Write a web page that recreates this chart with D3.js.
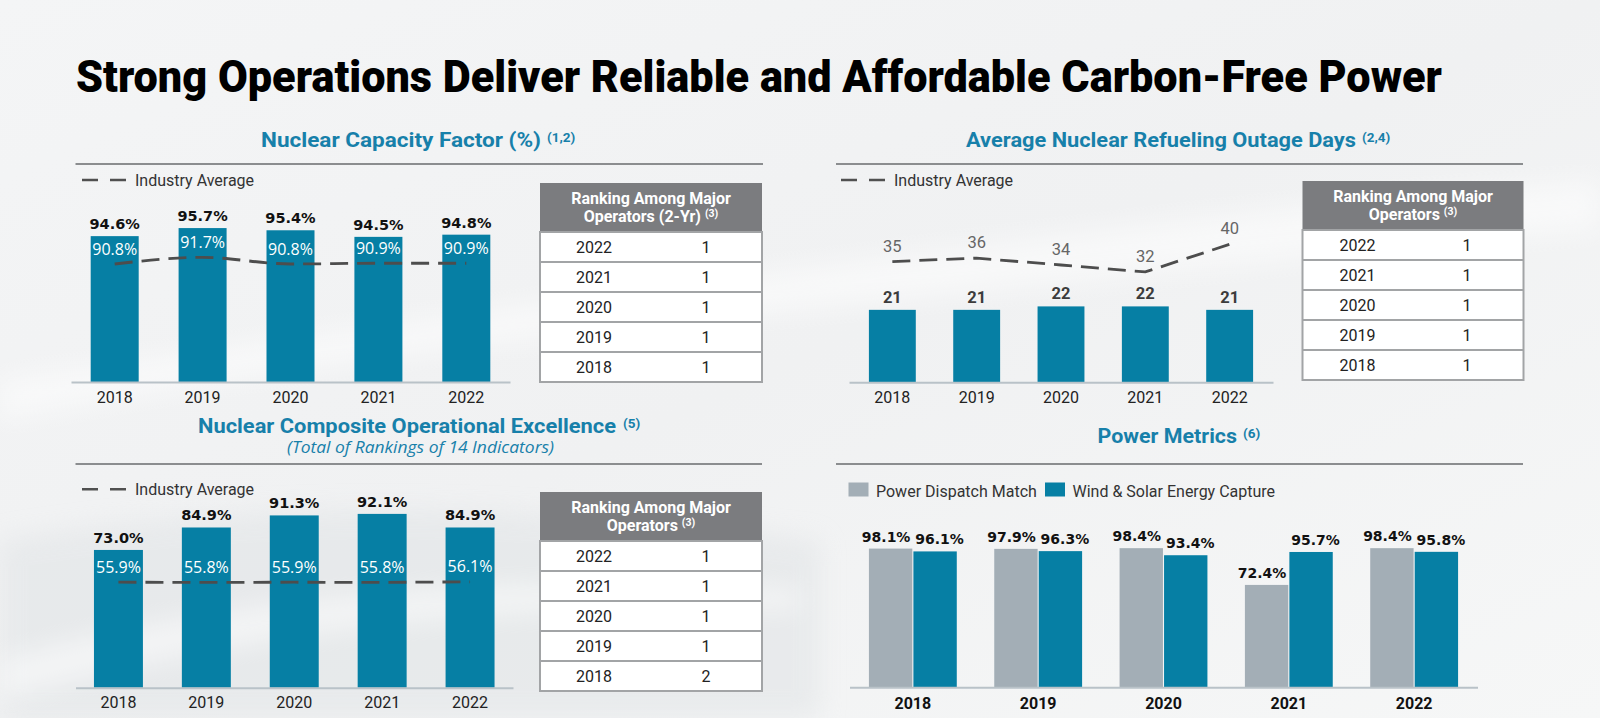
<!DOCTYPE html>
<html><head><meta charset="utf-8">
<script src="https://cdn.jsdelivr.net/npm/d3@7"></script>
<style>html,body{margin:0;padding:0;overflow:hidden;background:#f3f4f5}</style>
</head><body><svg id="c" width="1600" height="718"></svg>
<script>
// ---------- DATA ----------
const mainTitle = "Strong Operations Deliver Reliable and Affordable Carbon-Free Power";
const years = ["2018", "2019", "2020", "2021", "2022"];
const capacityFactor = [94.6, 95.7, 95.4, 94.5, 94.8];
const capacityIndustry = [90.8, 91.7, 90.8, 90.9, 90.9];
const outageDays = [21, 21, 22, 22, 21];
const outageIndustry = [35, 36, 34, 32, 40];
const compositeExcellence = [73.0, 84.9, 91.3, 92.1, 84.9];
const compositeIndustry = [55.9, 55.8, 55.9, 55.8, 56.1];
const seriesNames = ["Power Dispatch Match", "Wind & Solar Energy Capture"];
const powerDispatch = [98.1, 97.9, 98.4, 72.4, 98.4];
const windSolarCapture = [96.1, 96.3, 93.4, 95.7, 95.8];
const rankYears = ["2022", "2021", "2020", "2019", "2018"];
const rankCapacity = [1, 1, 1, 1, 1];
const rankOutage = [1, 1, 1, 1, 1];
const rankComposite = [1, 1, 1, 1, 2];
const legendIndustry = "Industry Average";

// ---------- STYLE ----------
const TEAL = "#067fa4", GREYBAR = "#a3aeb6", TITLE = "#1780aa", HEAD = "#7b7c7f";
const SANS = "Roboto, 'Open Sans', sans-serif";
const WIDE = "'DejaVu Sans', Verdana, sans-serif";
const OPEN = "'Open Sans', Roboto, sans-serif";
const pct = v => d3.format(".1f")(v) + "%";

const svg = d3.select("#c");
const defs = svg.append("defs");
const bg = defs.append("linearGradient").attr("id", "bg").attr("x1", 0).attr("y1", 0).attr("x2", 1).attr("y2", 1);
bg.append("stop").attr("offset", 0).attr("stop-color", "#f4f5f6");
bg.append("stop").attr("offset", 0.5).attr("stop-color", "#f0f1f2");
bg.append("stop").attr("offset", 1).attr("stop-color", "#f6f7f7");
svg.append("rect").attr("width", 1600).attr("height", 718).attr("fill", "url(#bg)");
const blur = defs.append("filter").attr("id", "soft").attr("x", "-10%").attr("y", "-50%").attr("width", "120%").attr("height", "200%");
blur.append("feGaussianBlur").attr("stdDeviation", 12);
// soft swooshes in background
svg.append("path").attr("d", "M0,420 C300,360 600,330 900,300 C1200,270 1450,240 1600,230 L1600,180 C1300,200 900,250 0,380 Z")
  .attr("fill", "#ffffff").attr("opacity", 0.5).attr("filter", "url(#soft)");
svg.append("path").attr("d", "M0,540 C250,500 500,500 820,540 L820,718 L0,718 Z")
  .attr("fill", "#e2e5e7").attr("opacity", 0.6).attr("filter", "url(#soft)");
svg.append("path").attr("d", "M0,660 C200,600 500,570 800,590 L800,610 C500,600 250,630 0,700 Z")
  .attr("fill", "#ffffff").attr("opacity", 0.5).attr("filter", "url(#soft)");

// ---------- TITLE ----------
svg.append("text").attr("x", 76).attr("y", 92)
  .attr("font-family", SANS).attr("font-weight", 900).attr("font-size", 44)
  .attr("fill", "#000").attr("textLength", 1366).attr("lengthAdjust", "spacingAndGlyphs")
  .text(mainTitle);

function panelTitle(text, sup, x0, x1, supX, baseline) {
  svg.append("text").attr("x", x0).attr("y", baseline)
    .attr("font-family", SANS).attr("font-weight", 700).attr("font-size", 20.5)
    .attr("fill", TITLE).attr("textLength", x1 - x0).attr("lengthAdjust", "spacingAndGlyphs")
    .text(text);
  svg.append("text").attr("x", supX).attr("y", baseline - 5)
    .attr("font-family", SANS).attr("font-weight", 700).attr("font-size", 13.5)
    .attr("fill", TITLE).text(sup);
}
function rule(x0, x1, y) {
  svg.append("line").attr("x1", x0).attr("x2", x1).attr("y1", y).attr("y2", y)
    .attr("stroke", "#8b8d8f").attr("stroke-width", 2);
}
function industryLegend(x, y) {
  svg.append("line").attr("x1", x).attr("x2", x + 46).attr("y1", y).attr("y2", y)
    .attr("stroke", "#505050").attr("stroke-width", 2.6).attr("stroke-dasharray", "16 12");
  svg.append("text").attr("x", x + 53).attr("y", y + 6)
    .attr("font-family", SANS).attr("font-size", 16).attr("fill", "#333").text(legendIndustry);
}

function rankTable(x, top, w, line2, rows, vals, colA, colB) {
  const g = svg.append("g");
  const hh = 49, rh = 30;
  g.append("rect").attr("x", x).attr("y", top).attr("width", w).attr("height", hh).attr("fill", HEAD);
  g.append("rect").attr("x", x).attr("y", top + hh).attr("width", w).attr("height", rh * rows.length)
    .attr("fill", "#ffffff").attr("stroke", "#a2a4a6").attr("stroke-width", 2);
  g.append("text").attr("x", x + w / 2).attr("y", top + 21).attr("text-anchor", "middle")
    .attr("font-family", SANS).attr("font-weight", 700).attr("font-size", 16).attr("fill", "#fff")
    .text("Ranking Among Major");
  const t2 = g.append("text").attr("x", x + w / 2).attr("y", top + 39).attr("text-anchor", "middle")
    .attr("font-family", SANS).attr("font-weight", 700).attr("font-size", 16).attr("fill", "#fff");
  t2.append("tspan").text(line2 + " ");
  t2.append("tspan").attr("font-size", 10.5).attr("dy", -5).text("(3)");
  const r = g.selectAll("g.row").data(rows.map((d, i) => ({ year: d, v: vals[i], i }))).join("g")
    .attr("transform", d => `translate(0,${top + hh + d.i * rh})`);
  r.filter(d => d.i > 0).append("line").attr("x1", x).attr("x2", x + w).attr("y1", 0).attr("y2", 0)
    .attr("stroke", "#a2a4a6").attr("stroke-width", 2);
  r.append("text").attr("x", x + colA).attr("y", 20.5).attr("text-anchor", "middle")
    .attr("font-family", SANS).attr("font-size", 16).attr("fill", "#222").text(d => d.year);
  r.append("text").attr("x", x + colB).attr("y", 20.5).attr("text-anchor", "middle")
    .attr("font-family", SANS).attr("font-size", 16).attr("fill", "#222").text(d => d.v);
}

function singlePanel(cfg) {
  const g = svg.append("g");
  const x = d3.scaleBand().domain(years).range(cfg.xr).paddingInner(cfg.pi).paddingOuter(cfg.po);
  const y = d3.scaleLinear().domain(cfg.yd).range(cfg.yr);
  const data = years.map((yr, i) => ({ yr, v: cfg.values[i], a: cfg.industry[i] }));
  g.selectAll("rect.bar").data(data).join("rect").attr("class", "bar")
    .attr("x", d => x(d.yr)).attr("width", x.bandwidth())
    .attr("y", d => y(d.v)).attr("height", d => y(cfg.yd[0]) - y(d.v)).attr("fill", TEAL);
  const axis = d3.axisBottom(x).tickSize(0).tickSizeOuter(0);
  const ag = g.append("g").attr("transform", `translate(0,${cfg.yr[0]})`).call(axis);
  ag.select(".domain").attr("stroke", "#b9c2c8").attr("stroke-width", 2);
  ag.selectAll("text").attr("y", 20.5).attr("dy", null)
    .attr("font-family", SANS).attr("font-size", 16).attr("fill", "#222");
  // value labels
  g.selectAll("text.val").data(data).join("text").attr("class", "val")
    .attr("x", d => x(d.yr) + x.bandwidth() / 2).attr("y", d => y(d.v) - 7)
    .attr("text-anchor", "middle").attr("font-family", cfg.valFont).attr("font-weight", 700)
    .attr("font-size", cfg.valSize).attr("fill", cfg.valColor).text(d => cfg.fmt(d.v));
  // industry line
  const line = d3.line().x(d => x(d.yr) + x.bandwidth() / 2).y(d => y(d.a)).curve(cfg.curve);
  g.append("path").datum(data).attr("d", line).attr("fill", "none")
    .attr("stroke", "#4d4d4d").attr("stroke-width", 2.8).attr("stroke-dasharray", "18 9");
  g.selectAll("text.avg").data(data).join("text").attr("class", "avg")
    .attr("x", d => x(d.yr) + x.bandwidth() / 2).attr("y", d => y(d.a) - cfg.avgOff)
    .attr("text-anchor", "middle").attr("font-family", cfg.avgFont)
    .attr("font-size", cfg.avgSize).attr("fill", cfg.avgColor).text(d => cfg.fmt(d.a));
}

// ---------- PANEL 1: Nuclear Capacity Factor ----------
panelTitle("Nuclear Capacity Factor (%)", "(1,2)", 261, 541, 547, 147);
rule(75.5, 763, 164);
industryLegend(82, 180);
singlePanel({
  xr: [71, 510], pi: 0.454, po: 0.224, yd: [74.7, 100], yr: [382, 382 - 25.3 * 7.33],
  values: capacityFactor, industry: capacityIndustry, curve: d3.curveMonotoneX,
  fmt: pct, valFont: WIDE, valSize: 14.5, valColor: "#111",
  avgFont: OPEN, avgSize: 16, avgColor: "#ffffff", avgOff: 9
});
rankTable(540, 183, 222, "Operators (2-Yr)", rankYears, rankCapacity, 54, 166);

// ---------- PANEL 2: Refueling Outage Days ----------
panelTitle("Average Nuclear Refueling Outage Days", "(2,4)", 966, 1356, 1362, 147);
rule(836, 1523, 164);
industryLegend(841, 180);
singlePanel({
  xr: [849, 1273], pi: 0.444, po: 0.236, yd: [0, 40], yr: [382.3, 382.3 - 40 * 3.45],
  values: outageDays, industry: outageIndustry, curve: d3.curveLinear,
  fmt: d => String(d), valFont: SANS, valSize: 16.5, valColor: "#3c3c3c",
  avgFont: SANS, avgSize: 16.5, avgColor: "#666", avgOff: 10
});
rankTable(1302.5, 181, 221, "Operators", rankYears, rankOutage, 55, 164.5);

// ---------- PANEL 3: Composite Operational Excellence ----------
panelTitle("Nuclear Composite Operational Excellence", "(5)", 198, 616, 623, 432.7);
svg.append("text").attr("x", 287).attr("y", 453.3)
  .attr("font-family", OPEN).attr("font-style", "italic").attr("font-weight", 400).attr("font-size", 16)
  .attr("fill", TITLE).attr("textLength", 267).attr("lengthAdjust", "spacingAndGlyphs")
  .text("(Total of Rankings of 14 Indicators)");
rule(75.5, 762, 464);
industryLegend(82, 489.3);
singlePanel({
  xr: [75.5, 513], pi: 0.443, po: 0.21, yd: [0, 100], yr: [687.7, 499],
  values: compositeExcellence, industry: compositeIndustry, curve: d3.curveLinear,
  fmt: pct, valFont: WIDE, valSize: 14.5, valColor: "#111",
  avgFont: OPEN, avgSize: 16, avgColor: "#ffffff", avgOff: 9.5
});
rankTable(540, 492, 222, "Operators", rankYears, rankComposite, 54, 166);

// ---------- PANEL 4: Power Metrics ----------
panelTitle("Power Metrics", "(6)", 1097.5, 1237, 1243, 442.7);
rule(836, 1523, 464);
(function () {
  const g = svg.append("g");
  const colors = [GREYBAR, TEAL];
  const leg = g.selectAll("g.leg").data(seriesNames).join("g").attr("class", "leg")
    .attr("transform", (d, i) => `translate(${[848.5, 1045][i]},482.5)`);
  leg.append("rect").attr("width", 20).attr("height", 14).attr("fill", (d, i) => colors[i]);
  leg.append("text").attr("x", 27.5).attr("y", 14).attr("font-family", SANS)
    .attr("font-size", 16).attr("fill", "#333").text(d => d);

  const x0 = d3.scaleBand().domain(years).range([849.5, 1477.5]).paddingInner(0.299).paddingOuter(0.155);
  const x1 = d3.scaleBand().domain(seriesNames).range([0, x0.bandwidth()]).paddingInner(0.025);
  const y = d3.scaleLinear().domain([0, 100]).range([687.3, 545.9]);
  const groups = g.selectAll("g.grp").data(years.map((yr, i) => ({
    yr, vals: [powerDispatch[i], windSolarCapture[i]]
  }))).join("g").attr("class", "grp").attr("transform", d => `translate(${x0(d.yr)},0)`);
  const items = groups.selectAll("g.it").data(d => d.vals.map((v, j) => ({ s: seriesNames[j], v, j }))).join("g");
  items.append("rect").attr("x", d => x1(d.s)).attr("width", x1.bandwidth())
    .attr("y", d => y(d.v)).attr("height", d => y(0) - y(d.v)).attr("fill", d => colors[d.j]);
  items.append("text").attr("x", d => x1(d.s) + x1.bandwidth() / 2 + (d.j === 0 ? -4.5 : 4.5))
    .attr("y", d => y(d.v) - 7).attr("text-anchor", "middle")
    .attr("font-family", WIDE).attr("font-weight", 700).attr("font-size", 14)
    .attr("fill", "#111").text(d => pct(d.v));
  const ag = g.append("g").attr("transform", "translate(0,687.3)")
    .call(d3.axisBottom(x0).tickSize(0).tickSizeOuter(0));
  ag.select(".domain").attr("stroke", "#b9c2c8").attr("stroke-width", 2);
  ag.selectAll("text").attr("y", 21.5).attr("dy", null)
    .attr("font-family", SANS).attr("font-weight", 700).attr("font-size", 16).attr("fill", "#111");
})();
</script></body></html>
